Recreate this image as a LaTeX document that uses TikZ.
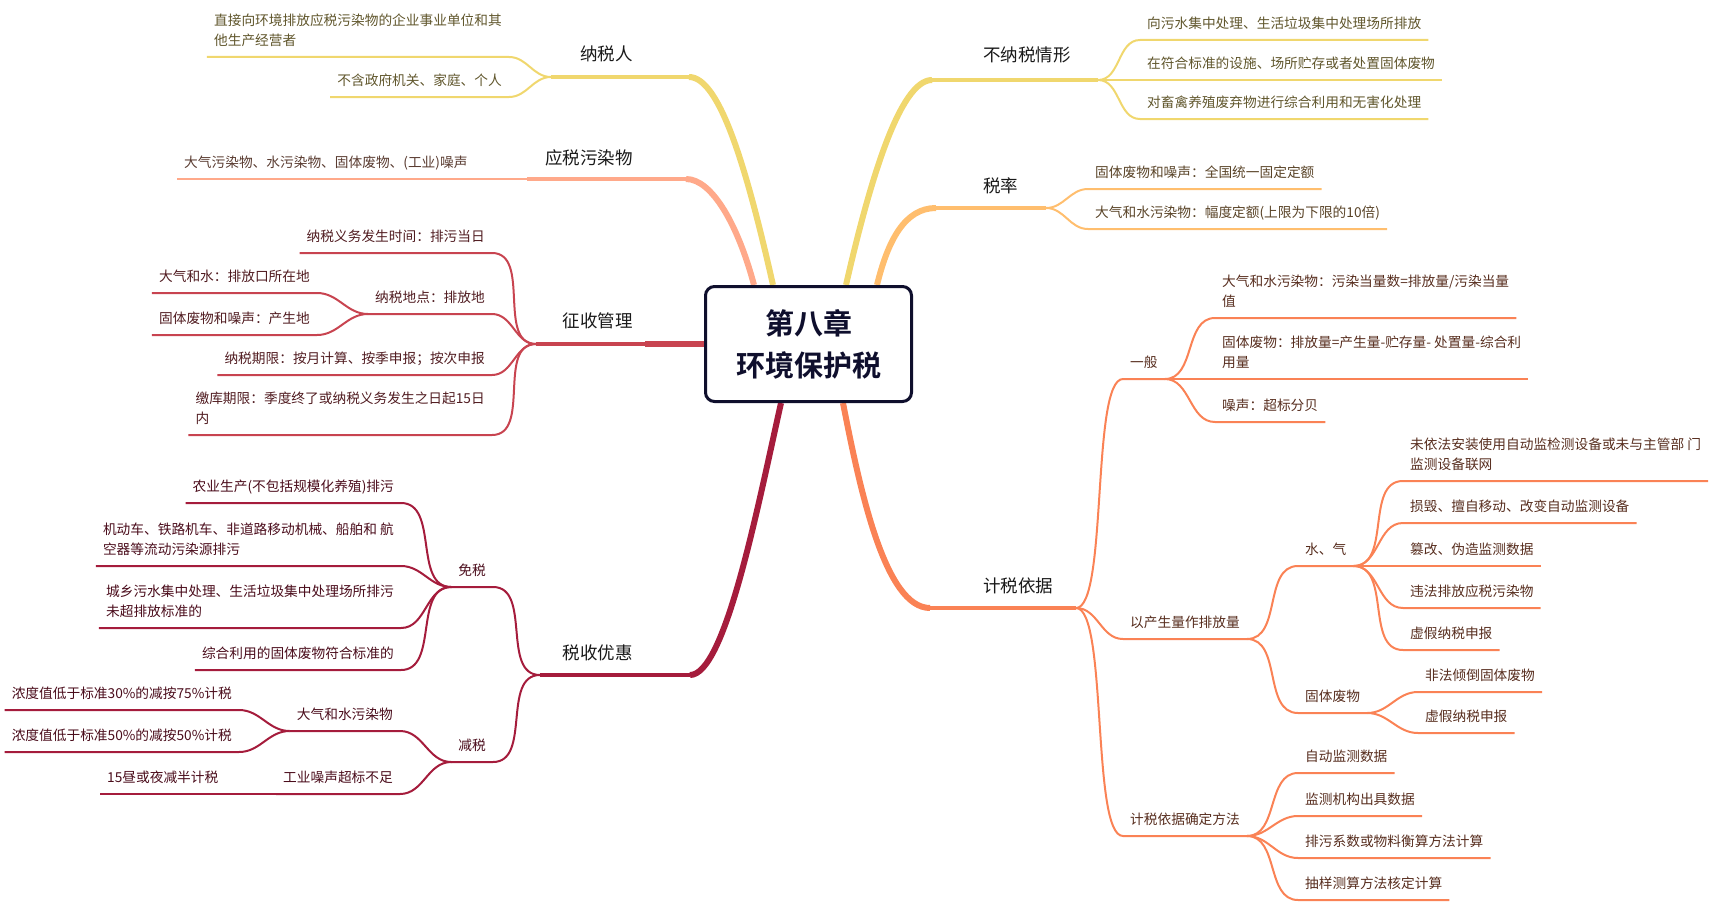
\documentclass[tikz,border=0pt]{standalone}
\usepackage{fontspec}
\setmainfont{Noto Sans CJK SC}[BoldFont={Noto Sans CJK SC Bold}]
\usetikzlibrary{backgrounds}
\definecolor{mapyellow}{RGB}{240,215,110}
\definecolor{mapsalmon}{RGB}{255,169,138}
\definecolor{maprose}{RGB}{200,68,80}
\definecolor{mapwine}{RGB}{165,28,60}
\definecolor{mapamber}{RGB}{255,190,110}
\definecolor{maporange}{RGB}{250,130,85}
\definecolor{mapnavy}{RGB}{15,15,45}
\definecolor{mapink}{RGB}{25,25,25}

\begin{document}
\begin{tikzpicture}[x=1pt,y=-1pt,
  hub/.style={rectangle,rounded corners=9pt,draw=mapnavy,line width=3pt,fill=white,
    minimum width=206pt,minimum height=115pt,align=center,text=mapnavy,
    font=\fontsize{29}{42}\selectfont\bfseries},
  topic/.style={inner sep=0pt,text=mapink,font=\fontsize{17.5}{21}\selectfont},
  leaf/.style={inner xsep=7pt,inner ysep=11pt,text depth=0pt,align=left,
    font=\fontsize{13.7}{20}\selectfont},
  lt/.style={leaf,anchor=south east},
  rt/.style={leaf,anchor=south west},
  trunk/.style={line width=6pt},
  stem/.style={line width=3.5pt},
  twig/.style={line width=2pt}
]
\useasboundingbox (0,0) rectangle (1718,907);
\node[hub] (hub) at (808.5,344) {第八章\\环境保护税};

\begin{scope}[on background layer]
\begin{scope}[color=mapyellow,every node/.append style={text=mapyellow!40!black}]
\node[topic,anchor=base east] (nsr) at (633,60) {纳税人};
\coordinate (nsr-knee) at (689,77);
\coordinate (nsr-fork) at (551,77);
\node[lt] (nsr1) at (509,57) {直接向环境排放应税污染物的企业事业单位和其\\他生产经营者};
\node[lt] (nsr2) at (509,97) {不含政府机关、家庭、个人};
\draw[trunk] ([xshift=-35.5pt]hub.north) .. controls (747,170) and (720,77) .. (nsr-knee);
\draw[stem] (nsr-knee) -- (nsr-fork);
\draw[twig] (nsr-fork) to[out=180,in=0] (nsr1.south east) -- (nsr1.south west);
\draw[twig] (nsr-fork) to[out=180,in=0] (nsr2.south east) -- (nsr2.south west);
\end{scope}

\begin{scope}[color=mapsalmon,every node/.append style={text=mapsalmon!35!black}]
\node[topic,anchor=base east] (yswrw) at (633,164) {应税污染物};
\coordinate (yswrw-knee) at (686,179);
\coordinate (yswrw-fork) at (527,179);
\node[rt] (yswrw1) at (177,179) {大气污染物、水污染物、固体废物、(工业)噪声};
\draw[trunk] ([xshift=-54.5pt]hub.north) .. controls (738,225) and (712,179) .. (yswrw-knee);
\draw[stem] (yswrw-knee) -- (yswrw-fork);
\draw[twig] (yswrw-fork) -- (yswrw1.south west);
\end{scope}

\begin{scope}[color=maprose,every node/.append style={text=maprose!40!black}]
\node[topic,anchor=base east] (zsgl) at (633,327) {征收管理};
\coordinate (zsgl-knee) at (645,344);
\coordinate (zsgl-fork) at (536,344);
\node[lt] (zsgl1) at (492,253) {纳税义务发生时间：排污当日};
\node[lt] (zsgl2) at (492,314) {纳税地点：排放地};
\node[lt] (zsgl21) at (317,293) {大气和水：排放口所在地};
\node[lt] (zsgl22) at (317,335) {固体废物和噪声：产生地};
\node[lt] (zsgl3) at (492,375) {纳税期限：按月计算、按季申报；按次申报};
\node[lt] (zsgl4) at (492,435) {缴库期限：季度终了或纳税义务发生之日起15日\\内};
\draw[trunk] (hub.west) -- (zsgl-knee);
\draw[stem] (zsgl-knee) -- (zsgl-fork);
\draw[twig] (zsgl-fork) to[out=180,in=0] (zsgl1.south east) -- (zsgl1.south west);
\draw[twig] (zsgl-fork) to[out=180,in=0] (zsgl2.south east) -- (zsgl2.south west);
\draw[twig] (zsgl2.south west) to[out=180,in=0] (zsgl21.south east) -- (zsgl21.south west);
\draw[twig] (zsgl2.south west) to[out=180,in=0] (zsgl22.south east) -- (zsgl22.south west);
\draw[twig] (zsgl-fork) to[out=180,in=0] (zsgl3.south east) -- (zsgl3.south west);
\draw[twig] (zsgl-fork) to[out=180,in=0] (zsgl4.south east) -- (zsgl4.south west);
\end{scope}

\begin{scope}[color=mapwine,every node/.append style={text=mapwine!45!black}]
\node[topic,anchor=base east] (ssyh) at (633,659) {税收优惠};
\coordinate (ssyh-knee) at (690,675);
\coordinate (ssyh-fork) at (540,675);
\node[lt] (ms) at (493,587) {免税};
\node[lt] (ms1) at (401,503) {农业生产(不包括规模化养殖)排污};
\node[lt] (ms2) at (401,566) {机动车、铁路机车、非道路移动机械、船舶和 航\\空器等流动污染源排污};
\node[lt] (ms3) at (401,628) {城乡污水集中处理、生活垃圾集中处理场所排污\\未超排放标准的};
\node[lt] (ms4) at (401,670) {综合利用的固体废物符合标准的};
\node[lt] (js) at (493,762) {减税};
\node[lt] (js1) at (400,731) {大气和水污染物};
\node[lt] (js11) at (239,710) {浓度值低于标准30\%的减按75\%计税};
\node[lt] (js12) at (239,752) {浓度值低于标准50\%的减按50\%计税};
\node[lt] (js2) at (400,794) {工业噪声超标不足};
\node[rt] (js21) at (100,794) {15昼或夜减半计税};
\draw[trunk] ([xshift=-27.5pt]hub.south) .. controls (757,510) and (725,675) .. (ssyh-knee);
\draw[stem] (ssyh-knee) -- (ssyh-fork);
\draw[twig] (ssyh-fork) to[out=180,in=0] (ms.south east) -- (ms.south west);
\draw[twig] (ms.south west) to[out=180,in=0] (ms1.south east) -- (ms1.south west);
\draw[twig] (ms.south west) to[out=180,in=0] (ms2.south east) -- (ms2.south west);
\draw[twig] (ms.south west) to[out=180,in=0] (ms3.south east) -- (ms3.south west);
\draw[twig] (ms.south west) to[out=180,in=0] (ms4.south east) -- (ms4.south west);
\draw[twig] (ssyh-fork) to[out=180,in=0] (js.south east) -- (js.south west);
\draw[twig] (js.south west) to[out=180,in=0] (js1.south east) -- (js1.south west);
\draw[twig] (js1.south west) to[out=180,in=0] (js11.south east) -- (js11.south west);
\draw[twig] (js1.south west) to[out=180,in=0] (js12.south east) -- (js12.south west);
\draw[twig] (js.south west) to[out=180,in=0] (js2.south east) -- (js2.south west);
\draw[twig] (js2.south west) -- (js21.south west);
\end{scope}

\begin{scope}[color=mapyellow,every node/.append style={text=mapyellow!40!black}]
\node[topic,anchor=base west] (bns) at (983,62) {不纳税情形};
\coordinate (bns-knee) at (932,80);
\coordinate (bns-fork) at (1098,80);
\node[rt] (bns1) at (1140,40) {向污水集中处理、生活垃圾集中处理场所排放};
\node[rt] (bns2) at (1140,80) {在符合标准的设施、场所贮存或者处置固体废物};
\node[rt] (bns3) at (1140,119) {对畜禽养殖废弃物进行综合利用和无害化处理};
\draw[trunk] ([xshift=37.5pt]hub.north) .. controls (870,180) and (900,80) .. (bns-knee);
\draw[stem] (bns-knee) -- (bns-fork);
\draw[twig] (bns-fork) to[out=0,in=180] (bns1.south west) -- (bns1.south east);
\draw[twig] (bns-fork) -- (bns2.south west) -- (bns2.south east);
\draw[twig] (bns-fork) to[out=0,in=180] (bns3.south west) -- (bns3.south east);
\end{scope}

\begin{scope}[color=mapamber,every node/.append style={text=mapamber!35!black}]
\node[topic,anchor=base west] (sl) at (983,192) {税率};
\coordinate (sl-knee) at (936,208);
\coordinate (sl-fork) at (1046,208);
\node[rt] (sl1) at (1088,189) {固体废物和噪声：全国统一固定定额};
\node[rt] (sl2) at (1088,229) {大气和水污染物：幅度定额(上限为下限的10倍)};
\draw[trunk] ([xshift=68.5pt]hub.north) .. controls (888,240) and (905,208) .. (sl-knee);
\draw[stem] (sl-knee) -- (sl-fork);
\draw[twig] (sl-fork) to[out=0,in=180] (sl1.south west) -- (sl1.south east);
\draw[twig] (sl-fork) to[out=0,in=180] (sl2.south west) -- (sl2.south east);
\end{scope}

\begin{scope}[color=maporange,every node/.append style={text=maporange!35!black}]
\node[topic,anchor=base west] (jsyj) at (983,592) {计税依据};
\coordinate (jsyj-knee) at (930,608);
\coordinate (jsyj-fork) at (1076,608);
\node[rt] (yb) at (1123,379) {一般};
\node[rt] (yb1) at (1215,318) {大气和水污染物：污染当量数=排放量/污染当量\\值};
\node[rt] (yb2) at (1215,379) {固体废物：排放量=产生量-贮存量- 处置量-综合利\\用量};
\node[rt] (yb3) at (1215,422) {噪声：超标分贝};
\node[rt] (cs) at (1123,639) {以产生量作排放量};
\node[rt] (sq) at (1298,566) {水、气};
\node[rt] (sq1) at (1403,481) {未依法安装使用自动监检测设备或未与主管部 门\\监测设备联网};
\node[rt] (sq2) at (1403,523) {损毁、擅自移动、改变自动监测设备};
\node[rt] (sq3) at (1403,566) {篡改、伪造监测数据};
\node[rt] (sq4) at (1403,608) {违法排放应税污染物};
\node[rt] (sq5) at (1403,650) {虚假纳税申报};
\node[rt] (gf) at (1298,713) {固体废物};
\node[rt] (gf1) at (1418,692) {非法倾倒固体废物};
\node[rt] (gf2) at (1418,733) {虚假纳税申报};
\node[rt] (ff) at (1123,836) {计税依据确定方法};
\node[rt] (ff1) at (1298,773) {自动监测数据};
\node[rt] (ff2) at (1298,816) {监测机构出具数据};
\node[rt] (ff3) at (1298,858) {排污系数或物料衡算方法计算};
\node[rt] (ff4) at (1298,900) {抽样测算方法核定计算};
\draw[trunk] ([xshift=34.5pt]hub.south) .. controls (860,490) and (885,608) .. (jsyj-knee);
\draw[stem] (jsyj-knee) -- (jsyj-fork);
\draw[twig] (jsyj-fork) to[out=0,in=180,looseness=0.35] (yb.south west) -- (yb.south east);
\draw[twig] (yb.south east) to[out=0,in=180] (yb1.south west) -- (yb1.south east);
\draw[twig] (yb.south east) -- (yb2.south west) -- (yb2.south east);
\draw[twig] (yb.south east) to[out=0,in=180] (yb3.south west) -- (yb3.south east);
\draw[twig] (jsyj-fork) to[out=0,in=180] (cs.south west) -- (cs.south east);
\draw[twig] (cs.south east) to[out=0,in=180] (sq.south west) -- (sq.south east);
\draw[twig] (sq.south east) to[out=0,in=180] (sq1.south west) -- (sq1.south east);
\draw[twig] (sq.south east) to[out=0,in=180] (sq2.south west) -- (sq2.south east);
\draw[twig] (sq.south east) -- (sq3.south west) -- (sq3.south east);
\draw[twig] (sq.south east) to[out=0,in=180] (sq4.south west) -- (sq4.south east);
\draw[twig] (sq.south east) to[out=0,in=180] (sq5.south west) -- (sq5.south east);
\draw[twig] (cs.south east) to[out=0,in=180] (gf.south west) -- (gf.south east);
\draw[twig] (gf.south east) to[out=0,in=180] (gf1.south west) -- (gf1.south east);
\draw[twig] (gf.south east) to[out=0,in=180] (gf2.south west) -- (gf2.south east);
\draw[twig] (jsyj-fork) to[out=0,in=180,looseness=0.35] (ff.south west) -- (ff.south east);
\draw[twig] (ff.south east) to[out=0,in=180] (ff1.south west) -- (ff1.south east);
\draw[twig] (ff.south east) to[out=0,in=180] (ff2.south west) -- (ff2.south east);
\draw[twig] (ff.south east) to[out=0,in=180] (ff3.south west) -- (ff3.south east);
\draw[twig] (ff.south east) to[out=0,in=180] (ff4.south west) -- (ff4.south east);
\end{scope}
\end{scope}
\end{tikzpicture}
\end{document}
